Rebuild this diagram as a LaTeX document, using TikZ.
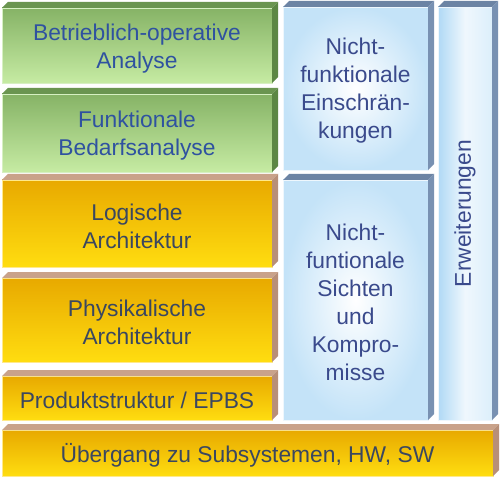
\documentclass[tikz,border=0pt]{standalone}
\usepackage{fontspec}
\setmainfont{Liberation Sans}
\definecolor{gTop}{HTML}{86B366}
\definecolor{gBot}{HTML}{C6EBA3}
\definecolor{gLine}{HTML}{D6F0C2}
\definecolor{gBevT}{HTML}{6A9550}
\definecolor{gBevS}{HTML}{5C8744}
\definecolor{gText}{HTML}{2F52A0}
\definecolor{oTop}{HTML}{E8A900}
\definecolor{oBot}{HTML}{FFDD10}
\definecolor{oLine}{HTML}{FFE98A}
\definecolor{oBevT}{HTML}{C9A28A}
\definecolor{oBevS}{HTML}{B88F78}
\definecolor{oText}{HTML}{3A4760}
\definecolor{bL}{HTML}{B0D9F5}
\definecolor{bO}{HTML}{C4E3F8}
\definecolor{bR}{HTML}{DCEFFB}
\definecolor{bLine}{HTML}{EEF7FD}
\definecolor{bBevT}{HTML}{6C84A4}
\definecolor{bBevS}{HTML}{7891B2}
\definecolor{bText}{HTML}{3A4A8C}
\newcommand\bevel[3]{%
  \fill[#2] (#1.north west) -- ([shift={(6,-6)}]#1.north west) -- ([shift={(6,-6)}]#1.north east) -- (#1.north east) -- cycle;
  \fill[#3] (#1.north east) -- ([shift={(6,-6)}]#1.north east) -- ([shift={(6,-6)}]#1.south east) -- (#1.south east) -- cycle;}
\tikzset{
  face/.style={rectangle, inner sep=0pt, outer sep=0pt, line width=0.8pt},
  lab/.style={inner sep=0pt, align=center, font=\fontsize{22.8}{28}\selectfont},
  gface/.style={face, top color=gTop, bottom color=gBot, draw=gLine},
  oface/.style={face, top color=oTop, bottom color=oBot, draw=oLine},
  bface/.style={face, inner color=white, outer color=bO, draw=bLine},
  eface/.style={face, left color=bL, right color=bR, middle color=white!80!bL, draw=bLine},
}
\begin{document}
\begin{tikzpicture}[x=1pt,y=-1pt]
\useasboundingbox (0,0) rectangle (500,478);
\fill[white] (0,0) rectangle (500,478);
% green
\node[gface, minimum width=270, minimum height=75] (g1) at (137,45.5) {};
\bevel{g1}{gBevT}{gBevS}
\node[lab, text=gText] (g1t) at ([yshift=-3pt]g1.center) {Betrieblich-operative\\Analyse};
\node[gface, minimum width=270, minimum height=78] (g2) at (137,133) {};
\bevel{g2}{gBevT}{gBevS}
\node[lab, text=gText] (g2t) at ([yshift=-3pt]g2.center) {Funktionale\\Bedarfsanalyse};
% orange
\node[oface, minimum width=270, minimum height=87] (o1) at (137,223.5) {};
\bevel{o1}{oBevT}{oBevS}
\node[lab, text=oText] (o1t) at ([yshift=-3pt]o1.center) {Logische\\Architektur};
\node[oface, minimum width=270, minimum height=84] (o2) at (137,320) {};
\bevel{o2}{oBevT}{oBevS}
\node[lab, text=oText] (o2t) at ([yshift=-2pt]o2.center) {Physikalische\\Architektur};
\node[oface, minimum width=270, minimum height=44] (o3) at (137,398) {};
\bevel{o3}{oBevT}{oBevS}
\node[lab, text=oText] (o3t) at ([yshift=-2pt]o3.center) {Produktstruktur / EPBS};
\node[oface, minimum width=491, minimum height=46] (o4) at (247.5,453) {};
\bevel{o4}{oBevT}{oBevS}
\node[lab, text=oText] (o4t) at ([yshift=-2pt]o4.center) {Übergang zu Subsystemen, HW, SW};
% blue
\node[bface, minimum width=145, minimum height=163] (b1) at (355.5,88.5) {};
\bevel{b1}{bBevT}{bBevS}
\node[lab, text=bText] (b1t) at ([yshift=-2pt]b1.center) {Nicht-\\funktionale\\Einschrän-\\kungen};
\node[bface, minimum width=145, minimum height=240] (b2) at (355.5,300) {};
\bevel{b2}{bBevT}{bBevS}
\node[lab, text=bText] (b2t) at ([yshift=-2pt]b2.center) {Nicht-\\funtionale\\Sichten\\und\\Kompro-\\misse};
\node[eface, minimum width=54, minimum height=413] (e) at (465,213.5) {};
\bevel{e}{bBevT}{bBevS}
\node[lab, rotate=90, text=bText] (elab) at (e.center) {Erweiterungen};
\end{tikzpicture}
\end{document}
